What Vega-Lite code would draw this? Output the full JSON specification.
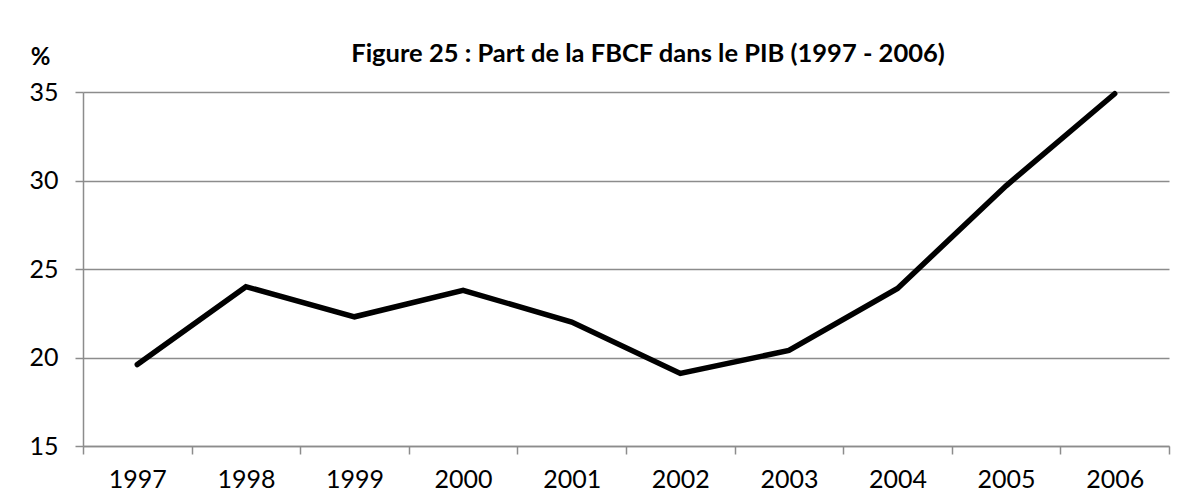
{
  "$schema": "https://vega.github.io/schema/vega-lite/v6.json",
  "width": 1086,
  "height": 354,
  "autosize": "none",
  "padding": {"left": 83, "top": 92, "right": 25, "bottom": 50},
  "background": "white",
  "title": {
    "text": "Figure 25 : Part de la FBCF dans le PIB (1997 - 2006)",
    "font": "Lato",
    "fontSize": 25.5,
    "fontWeight": "bold",
    "color": "black",
    "anchor": "middle",
    "frame": "group",
    "dx": 22,
    "dy": 26
  },
  "data": {
    "values": [
      {"annee": "1997", "part": 19.6},
      {"annee": "1998", "part": 24.0},
      {"annee": "1999", "part": 22.3},
      {"annee": "2000", "part": 23.8},
      {"annee": "2001", "part": 22.0},
      {"annee": "2002", "part": 19.1},
      {"annee": "2003", "part": 20.4},
      {"annee": "2004", "part": 23.9},
      {"annee": "2005", "part": 29.7},
      {"annee": "2006", "part": 34.9}
    ]
  },
  "mark": {"type": "line", "color": "black", "strokeWidth": 5.5, "strokeCap": "round", "strokeJoin": "miter"},
  "encoding": {
    "x": {
      "field": "annee",
      "type": "ordinal",
      "bandPosition": 0.5,
      "scale": {"type": "band", "paddingInner": 0, "paddingOuter": 0},
      "axis": {
        "title": null,
        "labelAngle": 0,
        "labelFont": "Lato",
        "labelFontSize": 25,
        "labelColor": "black",
        "labelPadding": 13,
        "tickBand": "extent",
        "tickColor": "#8c8c8c",
        "tickSize": 8,
        "tickWidth": 1.5,
        "domainColor": "#8c8c8c",
        "domainWidth": 1.5,
        "grid": false
      }
    },
    "y": {
      "field": "part",
      "type": "quantitative",
      "scale": {"domain": [15, 35], "nice": false, "zero": false},
      "axis": {
        "values": [15, 20, 25, 30, 35],
        "title": "%",
        "titleAngle": 0,
        "titleFont": "Lato",
        "titleFontSize": 24,
        "titleFontWeight": "bold",
        "titleColor": "black",
        "titleX": -43,
        "titleY": -35,
        "titleAlign": "center",
        "titleBaseline": "middle",
        "labelFont": "Lato",
        "labelFontSize": 25,
        "labelColor": "black",
        "labelPadding": 17,
        "tickColor": "#8c8c8c",
        "tickSize": 8,
        "tickWidth": 1.5,
        "domainColor": "#8c8c8c",
        "domainWidth": 1.5,
        "gridColor": "#8c8c8c",
        "gridWidth": 1.5
      }
    }
  },
  "config": {"view": {"stroke": null}}
}
